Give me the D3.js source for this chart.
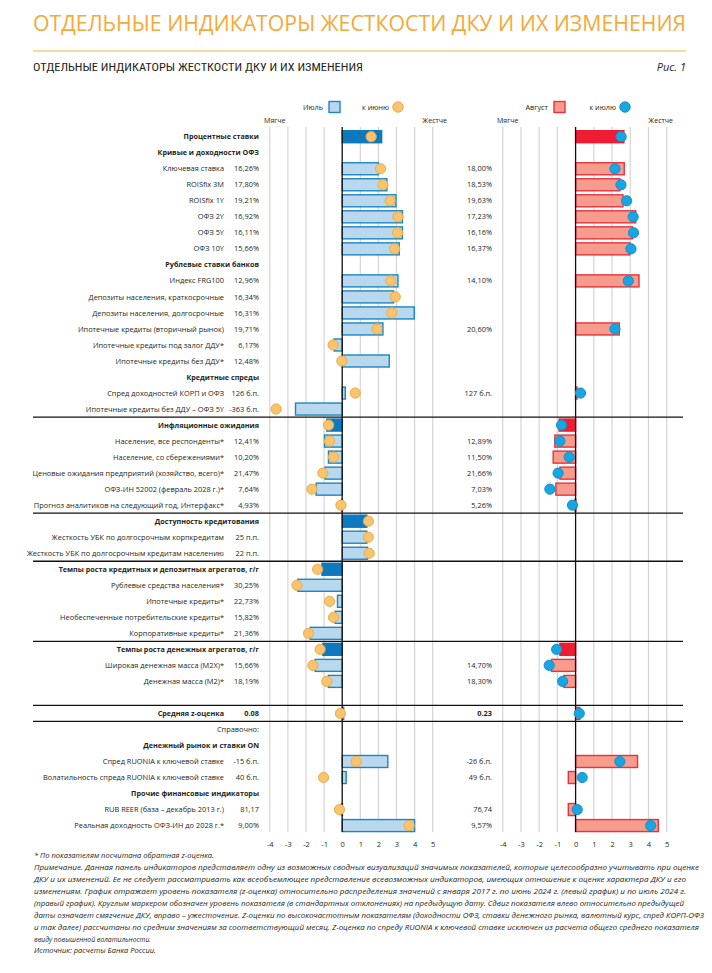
<!DOCTYPE html>
<html><head><meta charset="utf-8">
<script src="https://cdn.jsdelivr.net/npm/d3@7"></script>
<style>body{margin:0;background:#fff}</style>
</head><body>
<svg id="c" width="712" height="973"></svg>
<script>
// ---------- DATA ----------
const labels = [
 "Процентные ставки","Кривые и доходности ОФЗ","Ключевая ставка","ROISfix 3M","ROISfix 1Y","ОФЗ 2Y","ОФЗ 5Y","ОФЗ 10Y",
 "Рублевые ставки банков","Индекс FRG100","Депозиты населения, краткосрочные","Депозиты населения, долгосрочные",
 "Ипотечные кредиты (вторичный рынок)","Ипотечные кредиты под залог ДДУ*","Ипотечные кредиты без ДДУ*",
 "Кредитные спреды","Спред доходностей КОРП и ОФЗ","Ипотечные кредиты без ДДУ – ОФЗ 5Y",
 "Инфляционные ожидания","Население, все респонденты*","Население, со сбережениями*",
 "Ценовые ожидания предприятий (хозяйство, всего)*","ОФЗ-ИН 52002 (февраль 2028 г.)*","Прогноз аналитиков на следующий год, Интерфакс*",
 "Доступность кредитования","Жесткость УБК по долгосрочным корпкредитам","Жесткость УБК по долгосрочным кредитам населению",
 "Темпы роста кредитных и депозитных агрегатов, г/г","Рублевые средства населения*","Ипотечные кредиты*",
 "Необеспеченные потребительские кредиты*","Корпоративные кредиты*",
 "Темпы роста денежных агрегатов, г/г","Широкая денежная масса (M2X)*","Денежная масса (M2)*","",
 "Средняя z-оценка","Справочно:","Денежный рынок и ставки ON","Спред RUONIA к ключевой ставке",
 "Волатильность спреда RUONIA к ключевой ставке","Прочие финансовые индикаторы","RUB REER (база – декабрь 2013 г.)",
 "Реальная доходность ОФЗ-ИН до 2028 г.*"
];
// row kind: g = group header with bar, s = subheader, i = item, a = average, n = note, e = empty
const kinds = ["g","s","i","i","i","i","i","i","s","i","i","i","i","i","i","s","i","i",
 "g","i","i","i","i","i","g","i","i","g","i","i","i","i","g","i","i","e","a","n","s","i","i","s","i","i"];
const julyText = ["","","16,26%","17,80%","19,21%","16,92%","16,11%","15,66%","","12,96%","16,34%","16,31%","19,71%","6,17%","12,48%",
 "","126 б.п.","-363 б.п.","","12,41%","10,20%","21,47%","7,64%","4,93%","","25 п.п.","22 п.п.","","30,25%","22,73%","15,82%","21,36%",
 "","15,66%","18,19%","","0.08","","","-15 б.п.","40 б.п.","","81,17","9,00%"];
const augText = ["","","18,00%","18,53%","19,63%","17,23%","16,16%","16,37%","","14,10%","","","20,60%","","",
 "","127 б.п.","","","12,89%","11,50%","21,66%","7,03%","5,26%","","","","","","","","",
 "","14,70%","18,30%","","0.23","","","-26 б.п.","49 б.п.","","76,74","9,57%"];
// z-scores: July (bars, left), June (dots, left)
const zJuly = [2.18,null,2.0,2.47,2.97,3.33,3.33,3.15,null,3.08,2.84,3.98,2.25,-0.45,2.6,null,0.17,-2.58,
 -0.85,-0.98,-0.76,-0.94,-1.44,-0.03,1.36,1.36,1.4,-1.12,-2.45,-0.26,-0.39,-1.77,-1.07,-1.49,-0.76,null,
 0.08,null,null,2.52,0.22,null,-0.03,4.0];
const zJune = [1.6,null,2.12,2.25,2.65,3.08,3.06,2.9,null,2.69,2.93,2.74,1.92,-0.5,-0.02,null,0.72,-3.65,
 -0.75,-0.7,-0.48,-1.07,-1.67,-0.07,1.45,1.44,1.49,-1.36,-2.5,-0.7,-0.48,-1.86,-1.22,-1.62,-0.85,null,
 -0.1,null,null,0.77,-1.03,null,-0.15,3.7];
// z-scores: August (bars, right), July (dots, right)
const zAug = [2.65,null,2.67,2.43,2.6,3.3,3.12,2.98,null,3.48,null,null,2.4,null,null,null,0.08,null,
 -0.9,-1.14,-1.23,-0.86,-1.08,-0.03,null,null,null,null,null,null,null,null,-0.86,-1.32,-0.64,null,
 0.23,null,null,3.4,-0.4,null,-0.4,4.54];
const zJulyPrev = [2.5,null,2.16,2.49,2.8,3.16,3.18,3.04,null,2.89,null,null,2.16,null,null,null,0.27,null,
 -0.77,-0.86,-0.35,-0.96,-1.41,-0.17,null,null,null,null,null,null,null,null,-1.04,-1.45,-0.71,null,
 0.2,null,null,2.43,0.36,null,0.09,4.12];
const ticks = [-4,-3,-2,-1,0,1,2,3,4,5];
const separatorsAfter = [17,23,26,31,35,36];
const footnotes = [
 "* По показателям посчитана обратная z-оценка.",
 "Примечание. Данная панель индикаторов представляет одну из возможных сводных визуализаций значимых показателей, которые целесообразно учитывать при оценке",
 "ДКУ и их изменений. Ее не следует рассматривать как всеобъемлющее представление всевозможных индикаторов, имеющих отношение к оценке характера ДКУ и его",
 "изменениям. График отражает уровень показателя (z-оценка) относительно распределения значений с января 2017 г. по июнь 2024 г. (левый график) и по июль 2024 г.",
 "(правый график). Круглым маркером обозначен уровень показателя (в стандартных отклонениях) на предыдущую дату. Сдвиг показателя влево относительно предыдущей",
 "даты означает смягчение ДКУ, вправо – ужесточение. Z-оценки по высокочастотным показателям (доходности ОФЗ, ставки денежного рынка, валютный курс, спред КОРП-ОФЗ",
 "и так далее) рассчитаны по средним значениям за соответствующий месяц. Z-оценка по спреду RUONIA к ключевой ставке исключен из расчета общего среднего показателя",
 "ввиду повышенной волатильности.",
 "Источник: расчеты Банка России."
];
const footWidths = [180,665,652,652,650,670,665,117,122];

// ---------- DRAW ----------
const svg = d3.select("#c");
const FONT = "'Open Sans', sans-serif";
const txt = "#231f20";

// titles
svg.append("text").attr("x",33).attr("y",31).attr("font-family",FONT).attr("font-weight",500)
 .attr("font-size",22).attr("fill","#f4a93b").attr("textLength",653).attr("lengthAdjust","spacingAndGlyphs")
 .text("ОТДЕЛЬНЫЕ ИНДИКАТОРЫ ЖЕСТКОСТИ ДКУ И ИХ ИЗМЕНЕНИЯ");
svg.append("line").attr("x1",33).attr("x2",686).attr("y1",51).attr("y2",51).attr("stroke","#f5b547").attr("stroke-width",1.2);
svg.append("text").attr("x",33).attr("y",71).attr("font-family","'Liberation Sans Narrow','Roboto Condensed',Roboto,sans-serif")
 .attr("font-size",11.5).attr("font-weight",400).attr("fill",txt).attr("textLength",330).attr("lengthAdjust","spacingAndGlyphs")
 .text("ОТДЕЛЬНЫЕ ИНДИКАТОРЫ ЖЕСТКОСТИ ДКУ И ИХ ИЗМЕНЕНИЯ");
svg.append("text").attr("x",686).attr("y",71).attr("text-anchor","end").attr("font-family",FONT).attr("font-style","italic")
 .attr("font-size",11).attr("fill",txt).text("Рис. 1");

const n = labels.length;
const topY = 128.7, step = 16.02;
const y = d3.scaleBand().domain(d3.range(n)).range([topY, topY + step*n]).paddingInner(0.25).paddingOuter(0.125);
const yc = i => y(i) + y.bandwidth()/2;
const xL = d3.scaleLinear().domain([-4,5]).range([269.8,432.7]);
const xR = d3.scaleLinear().domain([-4,5]).range([502.7,666.7]);
const gridTop = 127, gridBot = 832;

// grids
[xL,xR].forEach(sc=>{
  svg.append("g").selectAll("line").data(ticks.filter(t=>t!==0)).join("line")
   .attr("x1",d=>sc(d)).attr("x2",d=>sc(d)).attr("y1",gridTop).attr("y2",gridBot)
   .attr("stroke","#d4d4d4").attr("stroke-width",1.2);
});

// separators
svg.append("g").selectAll("line").data(separatorsAfter).join("line")
 .attr("x1",33).attr("x2",683).attr("y1",d=>y(d)+step*0.875).attr("y2",d=>y(d)+step*0.875)
 .attr("stroke","#111").attr("stroke-width",1.3);

// bars and dots
function panel(sc, bars, dots, c){
  const g = svg.append("g");
  const idx = d3.range(n).filter(i=>bars[i]!==null);
  g.selectAll("rect").data(idx).join("rect")
   .attr("x",i=>sc(Math.min(0,bars[i]))).attr("width",i=>Math.max(0.8,Math.abs(sc(bars[i])-sc(0))))
   .attr("y",i=>y(i)).attr("height",y.bandwidth())
   .attr("fill",i=>kinds[i]==="g"?c.dark:c.fill)
   .attr("stroke",i=>kinds[i]==="g"?c.dark:c.stroke).attr("stroke-width",1.4);
  svg.append("line").attr("x1",sc(0)).attr("x2",sc(0)).attr("y1",gridTop).attr("y2",gridBot).attr("stroke","#111").attr("stroke-width",1.3);
  const di = d3.range(n).filter(i=>dots[i]!==null);
  svg.append("g").selectAll("circle").data(di).join("circle")
   .attr("cx",i=>sc(dots[i])).attr("cy",i=>yc(i)).attr("r",5.1)
   .attr("fill",c.dot).attr("stroke",c.dotStroke).attr("stroke-width",1);
}
panel(xL, zJuly, zJune, {fill:"#b9d8ee",stroke:"#1b86c4",dark:"#0f79bf",dot:"#f8c46f",dotStroke:"#f0ab44"});
panel(xR, zAug, zJulyPrev, {fill:"#f79b8d",stroke:"#e5333f",dark:"#ee1d33",dot:"#17a6e1",dotStroke:"#1090c8"});

// axes
[xL,xR].forEach(sc=>{
  const ax = svg.append("g").attr("transform",`translate(0,${gridBot})`)
    .call(d3.axisBottom(sc).tickValues(ticks).tickSize(0).tickPadding(10).tickFormat(d=>String(d)));
  ax.select(".domain").remove();
  ax.selectAll("text").attr("font-family",FONT).attr("font-size",7.5).attr("fill",txt);
});

// row labels
const lab = svg.append("g").attr("font-family",FONT).attr("fill",txt);
d3.range(n).forEach(i=>{
  const k = kinds[i];
  if(k==="e") return;
  const bold = (k==="g"||k==="s"||k==="a");
  const t = lab.append("text").attr("y",yc(i)+2.6).attr("text-anchor","end")
    .attr("font-size",bold?7.2:7.4).attr("font-weight",bold?700:400).text(labels[i]);
  t.attr("x",(k==="i"||k==="a")?224:259);
  if(julyText[i]) lab.append("text").attr("x",259).attr("y",yc(i)+2.6).attr("text-anchor","end")
    .attr("font-size",7.4).attr("font-weight",k==="a"?700:400).text(julyText[i]);
  if(augText[i]) lab.append("text").attr("x",492).attr("y",yc(i)+2.6).attr("text-anchor","end")
    .attr("font-size",7.4).attr("font-weight",k==="a"?700:400).text(augText[i]);
});

// panel end labels
[xL,xR].forEach(sc=>{
  svg.append("text").attr("x",sc(-4)+5).attr("y",123).attr("text-anchor","middle").attr("font-family",FONT)
    .attr("font-size",7).attr("fill",txt).text("Мягче");
  svg.append("text").attr("x",sc(5)-(sc===xL?-2:6)).attr("y",123).attr("text-anchor","middle").attr("font-family",FONT)
    .attr("font-size",7).attr("fill",txt).text("Жестче");
});

// legends
function legend(textA, boxX, textB, dotX, fill, stroke, dotFill, dotStroke){
  const g = svg.append("g").attr("font-family",FONT).attr("font-size",7.3).attr("fill",txt);
  g.append("text").attr("x",boxX-6).attr("y",109.5).attr("text-anchor","end").text(textA);
  g.append("rect").attr("x",boxX).attr("y",101.5).attr("width",11).attr("height",11).attr("fill",fill).attr("stroke",stroke).attr("stroke-width",1.4);
  g.append("text").attr("x",dotX-9).attr("y",109.5).attr("text-anchor","end").text(textB);
  g.append("circle").attr("cx",dotX).attr("cy",107).attr("r",5.2).attr("fill",dotFill).attr("stroke",dotStroke);
}
legend("Июль",329,"к июню",398,"#b9d8ee","#1b86c4","#f8c46f","#f0ab44");
legend("Август",554,"к июлю",625,"#f79b8d","#e5333f","#17a6e1","#1090c8");

// footnotes
const fy = [858,870,882,894,906,918,930,942,953];
svg.append("g").selectAll("text").data(footnotes).join("text")
 .attr("x",34).attr("y",(d,i)=>fy[i]).attr("font-family",FONT).attr("font-style","italic").attr("font-size",7.2)
 .attr("fill",txt).attr("textLength",(d,i)=>footWidths[i]).attr("lengthAdjust","spacingAndGlyphs").text(d=>d);
</script>
</body></html>
